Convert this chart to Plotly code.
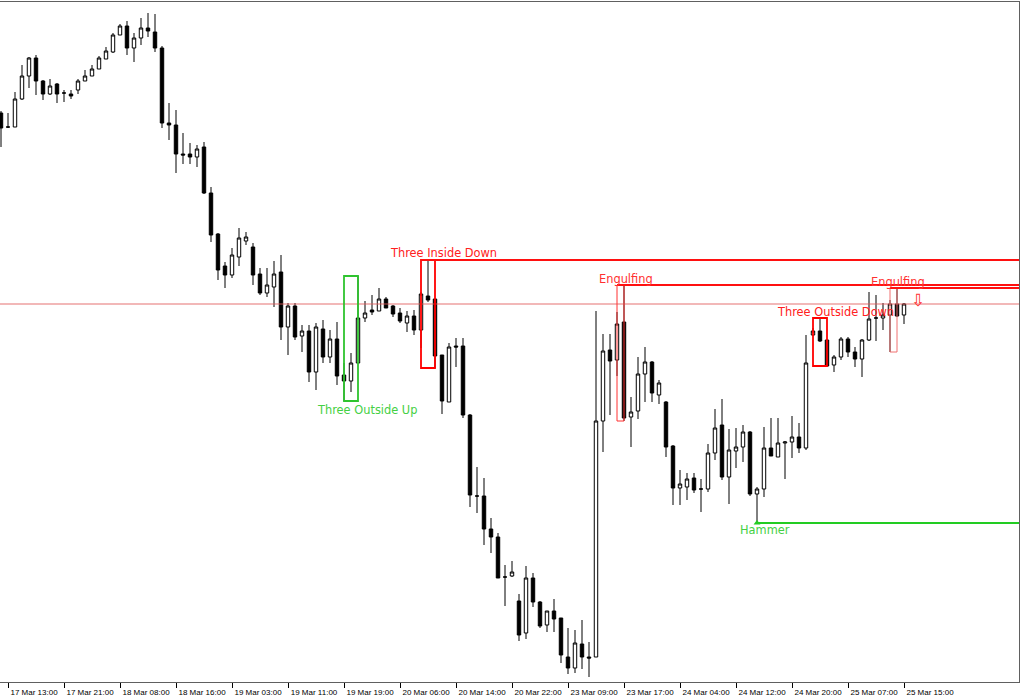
import plotly.graph_objects as go

# ---- data (price in points; chart has no price scale) ----
bar_index = list(range(130))
open_ = [587,573,573,601,624,642,619,606,616,607,606,610,619,624,631,641,648,665,674,652,
         662,672,668,652,577,575,546,546,543,553,507,466,434,425,443,459,453,426,407,413,
         428,373,394,364,369,328,371,343,361,325,319,337,382,390,389,401,394,387,377,384,
         370,404,401,345,298,354,354,285,204,204,171,163,123,124,99,67,122,98,75,89,
         82,43,32,56,43,43,279,350,340,378,283,289,326,338,305,298,254,212,213,222,
         211,211,247,275,223,249,253,268,206,211,252,243,257,258,263,252,365,369,360,335,
         343,361,348,341,360,382,382,385,396,385]
high_ = [589,587,608,635,643,645,620,621,617,610,610,621,630,635,644,653,667,676,679,667,
         682,687,686,654,597,590,567,557,555,558,513,467,438,452,472,468,457,432,432,439,
         445,397,397,375,375,377,380,370,378,337,347,424,399,405,412,403,395,392,389,390,
         408,440,401,345,357,362,362,286,233,222,182,167,135,139,106,134,127,99,89,101,
         82,72,70,80,58,389,366,366,388,415,303,343,353,339,320,299,255,230,227,227,
         221,256,291,301,271,272,275,269,213,273,282,282,259,284,277,365,372,382,361,345,
         363,363,353,361,408,405,397,400,412,397]
low_ = [553,572,573,600,612,605,600,605,597,598,601,606,619,624,631,641,647,665,645,638,
        655,663,648,572,560,527,536,536,533,506,458,420,412,422,434,455,415,405,403,393,
        360,345,360,348,318,310,337,337,315,299,308,337,378,385,389,392,383,377,368,365,
        352,398,332,286,298,333,282,193,187,155,147,122,94,123,59,61,93,72,68,68,
        37,26,27,31,23,43,248,285,324,279,253,281,298,298,296,243,195,195,200,207,
        188,208,240,220,196,232,238,204,177,203,244,243,221,242,247,250,364,358,334,328,
        340,343,333,323,359,359,370,348,383,376]
close_ = [572,573,601,624,642,619,606,614,606,607,604,619,624,631,642,649,665,674,652,662,
          672,669,652,577,575,546,545,543,551,507,465,430,425,445,462,463,425,407,415,426,
          373,394,363,369,328,373,343,361,324,319,337,382,387,388,401,392,386,379,384,370,
          406,400,344,299,353,353,285,205,204,171,163,122,123,128,65,122,98,74,89,81,
          45,32,57,43,42,279,349,339,376,282,288,326,338,307,317,253,212,216,221,210,
          211,247,272,223,250,253,268,206,211,252,244,257,258,263,252,337,369,359,334,343,
          361,348,341,360,381,382,385,396,384,396]

tick_bars = [1, 9, 17, 25, 33, 41, 49, 57, 65, 73, 81, 89, 97, 105, 113, 121, 129]
tick_labels = ["17 Mar 13:00", "17 Mar 21:00", "18 Mar 08:00", "18 Mar 16:00",
               "19 Mar 03:00", "19 Mar 11:00", "19 Mar 19:00", "20 Mar 06:00",
               "20 Mar 14:00", "20 Mar 22:00", "23 Mar 09:00", "23 Mar 17:00",
               "24 Mar 04:00", "24 Mar 12:00", "24 Mar 20:00", "25 Mar 07:00",
               "25 Mar 15:00"]

# patterns: (name, first bar, last bar, colour, extend top line to the right)
patterns = [
    ("Three Outside Up", 49, 51, "#2fc42f", False),
    ("Three Inside Down", 60, 62, "#ff0000", True),
    ("Engulfing", 88, 89, "#ff3030", True),
    ("Three Outside Down", 116, 118, "#ff0000", False),
    ("Engulfing", 127, 128, "#f07070", True),
]
hammer_bar = 108

X_MIN, X_MAX = -1 / 7, -1 / 7 + 1019 / 7

fig = go.Figure()
fig.add_trace(go.Candlestick(
    x=bar_index, open=open_, high=high_, low=low_, close=close_,
    increasing=dict(line=dict(color="#000000", width=1), fillcolor="#ffffff"),
    decreasing=dict(line=dict(color="#000000", width=1), fillcolor="#000000"),
    whiskerwidth=0, hoverinfo="skip", showlegend=False,
))

shapes = []
# bid line at last close
shapes.append(dict(type="line", xref="x", yref="y", x0=X_MIN, x1=X_MAX,
                   y0=close_[-1], y1=close_[-1],
                   line=dict(color="rgba(225,90,90,0.85)", width=1.2)))
for name, a, b, col, ext in patterns:
    top = max(high_[a:b + 1])
    bot = min(low_[a:b + 1])
    lw = 1 if name == "Engulfing" else 1.8
    shapes.append(dict(type="rect", xref="x", yref="y", x0=a, x1=b, y0=bot, y1=top,
                       line=dict(color=col, width=lw), fillcolor="rgba(0,0,0,0)"))
    if ext:
        shapes.append(dict(type="line", xref="x", yref="y", x0=a, x1=X_MAX, y0=top, y1=top,
                           line=dict(color="#ff1010", width=1.8)))
# hammer support line
shapes.append(dict(type="line", xref="x", yref="y", x0=hammer_bar, x1=X_MAX,
                   y0=low_[hammer_bar], y1=low_[hammer_bar],
                   line=dict(color="#22cc22", width=1.8)))
fig.update_layout(shapes=shapes)

fig.add_trace(go.Scatter(x=[hammer_bar], y=[low_[hammer_bar]], mode="markers",
                         marker=dict(symbol="triangle-up", size=6, color="#22cc22"),
                         hoverinfo="skip", showlegend=False))

lab_font = dict(family="DejaVu Sans", size=11.4)
annotations = [
    dict(text="Three Outside Up", x=52.24, y=290, font=dict(color="#44d044", **lab_font)),
    dict(text="Three Inside Down", x=63.21, y=447, font=dict(color="#ff2020", **lab_font)),
    dict(text="Engulfing", x=89.29, y=421, font=dict(color="#ff3030", **lab_font)),
    dict(text="Three Outside Down", x=119.19, y=388, font=dict(color="#ff2020", **lab_font)),
    dict(text="Engulfing", x=128.21, y=418.3, font=dict(color="#ff3030", **lab_font)),
    dict(text="Hammer", x=109.14, y=170, font=dict(color="#44d044", **lab_font)),
    dict(text="\u21e9", x=130.93, y=400, font=dict(color="#ff3030", family="DejaVu Sans", size=17)),
]
for a in annotations:
    a.update(xref="x", yref="y", showarrow=False, xanchor="center", yanchor="middle")
fig.update_layout(annotations=annotations)

fig.update_layout(
    width=1020, height=700,
    margin=dict(l=0, r=1, t=2, b=18),
    paper_bgcolor="#ffffff", plot_bgcolor="#ffffff",
    showlegend=False,
    xaxis=dict(range=[X_MIN, X_MAX], rangeslider=dict(visible=False),
               tickmode="array", tickvals=tick_bars, ticktext=tick_labels,
               ticks="outside", ticklen=5, tickcolor="#000000", tickwidth=1,
               ticklabelshift=26, ticklabelstandoff=-3,
               tickfont=dict(family="Liberation Sans", size=8, color="#000000"),
               showgrid=False, zeroline=False,
               showline=True, linecolor="#606060", linewidth=1, mirror=True),
    yaxis=dict(range=[18, 698], showticklabels=False, ticks="", showgrid=False,
               zeroline=False, side="right", showline=True, linecolor="#606060",
               linewidth=1),
)

fig.write_html("out.html", config={"displayModeBar": False},
               post_script="document.body.style.margin='0';document.body.style.padding='0';")
